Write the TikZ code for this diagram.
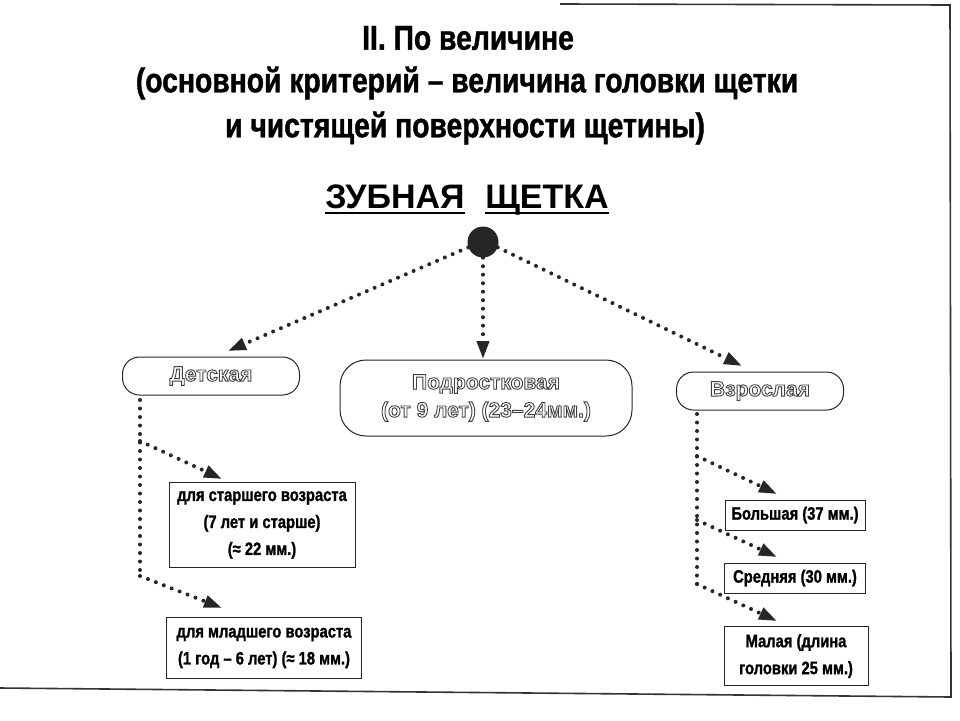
\documentclass[tikz,border=0pt]{standalone}
\usepackage{fontspec}
\setmainfont{Liberation Sans}
\newfontfamily\condfont[FakeStretch=0.82,FakeBold=1.2]{Liberation Sans}
\usetikzlibrary{arrows.meta}
\newcommand{\hollowtext}[1]{\special{pdf:literal direct 1 Tr 0.9 w}#1\special{pdf:literal direct 0 Tr}}
\tikzset{
  dotline/.style={line width=4pt, dash pattern=on 0pt off 8.5pt, line cap=round, draw=black!85},
  dotarrow/.style={dotline, -{Triangle[length=18pt,width=12pt]}},
  pillbox/.style={draw=black!85, line width=1pt, rounded corners=17pt, align=center,
    font=\bfseries\fontsize{21}{28}\selectfont, text=black!75, inner sep=0pt},
  sqbox/.style={draw=black!85, line width=1pt, align=center, inner sep=0pt,
    font=\condfont\bfseries\fontsize{18}{27}\selectfont},
  titletext/.style={font=\condfont\bfseries\fontsize{34.5}{40}\selectfont, inner sep=0pt},
  headword/.style={font=\bfseries\fontsize{34}{38}\selectfont, inner sep=0pt, anchor=base},
}
\begin{document}
\begin{tikzpicture}[x=1pt,y=-1pt]
\useasboundingbox (0,0) rectangle (960,720);
\fill[white] (0,0) rectangle (960,720);
% frame
\draw[line width=1.6pt, black!80] (560,4) -- (950,5) -- (951,697) -- (0,688);
% titles
\node[titletext] (t1) at (468,38) {II. По величине};
\node[titletext] (t2) at (467,83) {(основной критерий – величина головки щетки};
\node[titletext] (t3) at (465,128) {и чистящей поверхности щетины)};
\node[headword] (w1) at (395,208) {ЗУБНАЯ};
\node[headword] (w2) at (547,208) {ЩЕТКА};
\draw[line width=2.8pt] ([yshift=-5pt]w1.base west) -- ([yshift=-5pt]w1.base east);
\draw[line width=2.8pt] ([yshift=-5pt]w2.base west) -- ([yshift=-5pt]w2.base east);
% hub
\node[circle, fill=black!85, minimum size=31pt, inner sep=0pt] (hub) at (483,242) {};
% level 1
\node[pillbox, minimum width=177pt, minimum height=38pt] (det) at (211,376) {\hollowtext{Детская}};
\node[pillbox, minimum width=292pt, minimum height=76pt, rounded corners=26pt] (pod) at (486,398)
  {\hollowtext{Подростковая}\\\hollowtext{(от 9 лет) (23–24мм.)}};
\node[pillbox, minimum width=167pt, minimum height=38pt] (vzr) at (760,391) {\hollowtext{Взрослая}};
\coordinate (aDet) at (228,351);
\coordinate (aPod) at (483,359);
\coordinate (aVzr) at (742,366);
\draw[dotarrow] (hub.200) -- (aDet);
\draw[dotarrow] (hub.south) -- (aPod);
\draw[dotarrow] (hub.340) -- (aVzr);
% left branch
\node[sqbox, minimum width=186pt, minimum height=85pt] (old) at (262,525)
  {для старшего возраста\\(7 лет и старше)\\(≈ 22 мм.)};
\node[sqbox, minimum width=195pt, minimum height=61pt] (young) at (264,648)
  {для младшего возраста\\(1 год – 6 лет) (≈ 18 мм.)};
\coordinate (lTop) at (140,400);
\coordinate (lA) at (140,441);
\coordinate (lB) at (140,576);
\coordinate (aOld) at (222,479);
\coordinate (aYoung) at (222,608);
\draw[dotline] (lTop) -- (lB);
\draw[dotarrow] (lA) -- (aOld);
\draw[dotarrow] (lB) -- (aYoung);
% right branch
\node[sqbox, minimum width=140pt, minimum height=30pt] (big) at (795,515) {Большая (37 мм.)};
\node[sqbox, minimum width=141pt, minimum height=30pt] (mid) at (795,578) {Средняя (30 мм.)};
\node[sqbox, minimum width=144pt, minimum height=59pt] (small) at (796,656) {Малая (длина\\головки 25 мм.)};
\coordinate (rTop) at (697,414);
\coordinate (rA) at (697,456);
\coordinate (rB) at (697,520);
\coordinate (rC) at (697,584);
\coordinate (aBig) at (777,494);
\coordinate (aMid) at (777,557);
\coordinate (aSmall) at (777,621);
\draw[dotline] (rTop) -- (rC);
\draw[dotarrow] (rA) -- (aBig);
\draw[dotarrow] (rB) -- (aMid);
\draw[dotarrow] (rC) -- (aSmall);
\end{tikzpicture}
\end{document}
